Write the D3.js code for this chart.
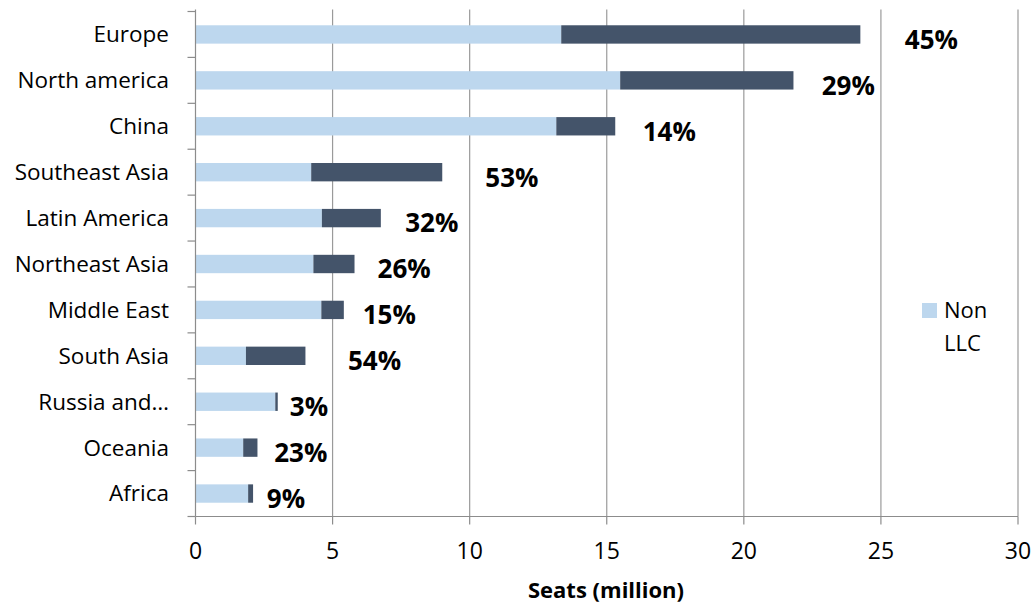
<!DOCTYPE html>
<html><head><meta charset="utf-8">
<script src="https://cdn.jsdelivr.net/npm/d3@7"></script>
<style>
html,body{margin:0;padding:0;background:#fff;}
text{font-family:"Open Sans",sans-serif;}
</style></head>
<body><svg id="c" width="1035" height="605"></svg>
<script>
const categories = ["Europe","North america","China","Southeast Asia","Latin America","Northeast Asia","Middle East","South Asia","Russia and…","Oceania","Africa"];
const nonLLC = [13.34, 15.49, 13.16, 4.22, 4.61, 4.30, 4.59, 1.84, 2.91, 1.74, 1.92];
const llc    = [10.91, 6.32, 2.15, 4.78, 2.15, 1.50, 0.82, 2.17, 0.09, 0.52, 0.18];
const shareLabels = ["45%","29%","14%","53%","32%","26%","15%","54%","3%","23%","9%"];
const labelAt = [26.84, 23.81, 17.28, 11.54, 8.62, 7.61, 7.07, 6.53, 4.14, 3.84, 3.30];
const xTicks = [0,5,10,15,20,25,30];
const seriesNames = ["Non LLC","LLC"];

const svg = d3.select("#c");
const mL = 195.5, mR = 1018, mT = 11.5, mB = 516.5;
const x = d3.scaleLinear().domain([0,30]).range([mL,mR]);
const y = d3.scaleBand().domain(categories).range([mT,mB]).paddingInner(0.6).paddingOuter(0.3);
const band = d3.scaleBand().domain(categories).range([mT,mB]);

// gridlines
svg.append("g").selectAll("line").data(xTicks.slice(1)).join("line")
  .attr("x1",d=>x(d)).attr("x2",d=>x(d)).attr("y1",mT-2).attr("y2",mB)
  .attr("stroke","#9a9a9a").attr("stroke-width",1.2);

// bars
const g = svg.append("g");
g.selectAll("rect.n").data(categories).join("rect").attr("class","n")
  .attr("x",x(0)).attr("y",d=>y(d)).attr("height",y.bandwidth())
  .attr("width",(d,i)=>x(nonLLC[i])-x(0)).attr("fill","#BDD7EE");
g.selectAll("rect.l").data(categories).join("rect").attr("class","l")
  .attr("x",(d,i)=>x(nonLLC[i])).attr("y",d=>y(d)).attr("height",y.bandwidth())
  .attr("width",(d,i)=>x(nonLLC[i]+llc[i])-x(nonLLC[i])).attr("fill","#44546A");

// share labels
svg.append("g").selectAll("text").data(categories).join("text")
  .attr("x",(d,i)=>x(labelAt[i])).attr("y",d=>y(d)+y.bandwidth()/2+5)
  .attr("dy","0.36em").attr("text-anchor","middle")
  .attr("font-weight","bold").attr("font-size",26).attr("fill","#000")
  .text((d,i)=>shareLabels[i]);

// y axis
const ya = svg.append("g").attr("transform",`translate(${mL},0)`);
ya.append("line").attr("x1",0).attr("x2",0).attr("y1",mT-2).attr("y2",mB).attr("stroke","#8c8c8c").attr("stroke-width",1.2);
const bounds = categories.map(c=>band(c)).concat([mB]);
ya.selectAll("line.t").data(bounds).join("line").attr("class","t")
  .attr("x1",-8).attr("x2",0).attr("y1",d=>d).attr("y2",d=>d).attr("stroke","#8c8c8c").attr("stroke-width",1.2);
ya.selectAll("text").data(categories).join("text")
  .attr("x",-26.5).attr("y",d=>band(d)+band.bandwidth()/2).attr("dy","0.35em")
  .attr("text-anchor","end").attr("font-size",22.5).attr("fill","#000").text(d=>d);

// x axis
const xa = svg.append("g").attr("transform",`translate(0,${mB})`);
xa.append("line").attr("x1",mL).attr("x2",mR).attr("stroke","#8c8c8c").attr("stroke-width",1.2);
xa.selectAll("line.t").data(xTicks).join("line").attr("class","t")
  .attr("x1",d=>x(d)).attr("x2",d=>x(d)).attr("y1",0).attr("y2",8).attr("stroke","#8c8c8c").attr("stroke-width",1.2);
xa.selectAll("text").data(xTicks).join("text")
  .attr("x",d=>x(d)).attr("y",42.5).attr("text-anchor","middle").attr("font-size",23).attr("fill","#000").text(d=>d);

svg.append("text").attr("x",606).attr("y",598).attr("text-anchor","middle")
  .attr("font-size",22).attr("font-weight","bold").text("Seats (million)");

// legend (single entry, wrapped)
const lg = svg.append("g");
lg.append("rect").attr("x",922).attr("y",303).attr("width",15).attr("height",15).attr("fill","#BDD7EE");
const words = seriesNames[0].split(" ");
lg.selectAll("text").data(words).join("text")
  .attr("x",944).attr("y",(d,i)=>318+i*33).attr("font-size",22).attr("fill","#000").text(d=>d);
</script></body></html>
